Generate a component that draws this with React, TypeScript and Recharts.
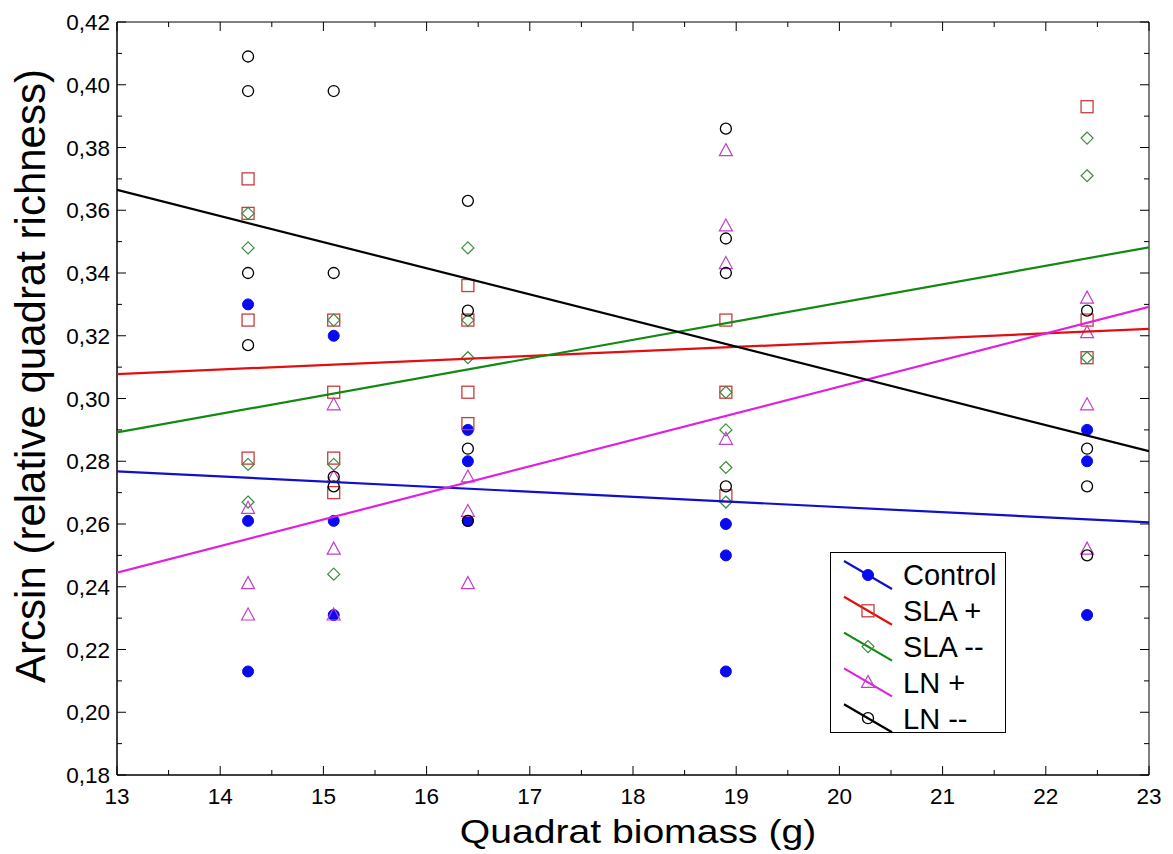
import React from 'react';
import { ScatterChart, Scatter, XAxis, YAxis, ReferenceArea } from 'recharts';

// ---- data ----
const biomassLevels = [14.27, 15.1, 16.4, 18.9, 22.4];

const controlValues = [
  [0.33, 0.261, 0.213],
  [0.32, 0.261, 0.231],
  [0.29, 0.28, 0.261],
  [0.26, 0.25, 0.213],
  [0.29, 0.28, 0.231],
];
const slaPlusValues = [
  [0.37, 0.359, 0.325, 0.281],
  [0.325, 0.302, 0.281, 0.27],
  [0.336, 0.325, 0.302, 0.292],
  [0.325, 0.302, 0.269],
  [0.393, 0.325, 0.313],
];
const slaMinusValues = [
  [0.359, 0.348, 0.279, 0.267],
  [0.325, 0.279, 0.244],
  [0.348, 0.325, 0.313],
  [0.302, 0.29, 0.278, 0.267],
  [0.383, 0.371, 0.313],
];
const lnPlusValues = [
  [0.265, 0.241, 0.231],
  [0.298, 0.275, 0.252, 0.231],
  [0.275, 0.264, 0.241],
  [0.379, 0.355, 0.343, 0.287],
  [0.332, 0.321, 0.298, 0.252],
];
const lnMinusValues = [
  [0.409, 0.398, 0.34, 0.317],
  [0.398, 0.34, 0.275, 0.272],
  [0.363, 0.328, 0.284, 0.261],
  [0.386, 0.351, 0.34, 0.272],
  [0.328, 0.284, 0.272, 0.25],
];

// fitted regression lines, values at the two ends of the x axis
const fitEnds = [13, 23];
const controlFit = [0.2768, 0.2605];
const slaPlusFit = [0.3078, 0.3222];
const slaMinusFit = [0.2892, 0.3482];
const lnPlusFit = [0.2445, 0.3292];
const lnMinusFit = [0.3665, 0.2832];

const seriesNames = ['Control', 'SLA +', 'SLA --', 'LN +', 'LN --'];

const xMajorTicks = [13, 14, 15, 16, 17, 18, 19, 20, 21, 22, 23];
const xMinorTicks = [13.5, 14.5, 15.5, 16.5, 17.5, 18.5, 19.5, 20.5, 21.5, 22.5];
const yMajorTicks = [0.18, 0.2, 0.22, 0.24, 0.26, 0.28, 0.3, 0.32, 0.34, 0.36, 0.38, 0.4, 0.42];
const yMinorTicks = [0.19, 0.21, 0.23, 0.25, 0.27, 0.29, 0.31, 0.33, 0.35, 0.37, 0.39, 0.41];

// ---- layout ----
const W = 1173;
const H = 854;
const PL = 117;
const PR = 1149;
const PT = 22;
const PB = 775;
const FONT = '"Liberation Sans", Arial, sans-serif';

const toPoints = (vals: number[][]) =>
  biomassLevels.flatMap((x, i) => vals[i].map((y) => ({ x, y })));
const toFit = (vals: number[]) => fitEnds.map((x, i) => ({ x, y: vals[i] }));

type Marker = 'dot' | 'square' | 'diamond' | 'triangle' | 'circle';

const drawMarker = (kind: Marker, cx: number, cy: number, color: string) => {
  switch (kind) {
    case 'dot':
      return <circle cx={cx} cy={cy} r={5.5} fill={color} stroke={color} strokeWidth={1} />;
    case 'square':
      return <rect x={cx - 6} y={cy - 6} width={12} height={12} fill="none" stroke={color} strokeWidth={1.3} />;
    case 'diamond':
      return (
        <polygon
          points={`${cx},${cy - 6} ${cx + 6},${cy} ${cx},${cy + 6} ${cx - 6},${cy}`}
          fill="none"
          stroke={color}
          strokeWidth={1.2}
        />
      );
    case 'triangle':
      return (
        <polygon
          points={`${cx},${cy - 7} ${cx + 6.5},${cy + 5} ${cx - 6.5},${cy + 5}`}
          fill="none"
          stroke={color}
          strokeWidth={1.2}
        />
      );
    default:
      return <circle cx={cx} cy={cy} r={5.5} fill="none" stroke={color} strokeWidth={1.3} />;
  }
};

const series = [
  { name: seriesNames[0], vals: controlValues, fit: controlFit, marker: 'dot' as Marker, markerColor: '#0a0af0', lineColor: '#1010c8' },
  { name: seriesNames[1], vals: slaPlusValues, fit: slaPlusFit, marker: 'square' as Marker, markerColor: '#c83c3c', lineColor: '#e01010' },
  { name: seriesNames[2], vals: slaMinusValues, fit: slaMinusFit, marker: 'diamond' as Marker, markerColor: '#3c8c3c', lineColor: '#108a10' },
  { name: seriesNames[3], vals: lnPlusValues, fit: lnPlusFit, marker: 'triangle' as Marker, markerColor: '#c040c8', lineColor: '#e020e0' },
  { name: seriesNames[4], vals: lnMinusValues, fit: lnMinusFit, marker: 'circle' as Marker, markerColor: '#000000', lineColor: '#000000' },
];

const isIn = (list: number[], v: number) => list.some((m) => Math.abs(m - v) < 1e-6);

const YTick = (props: any) => {
  const { y, payload } = props;
  const v = payload.value as number;
  const major = isIn(yMajorTicks, v);
  const len = major ? 9 : 5;
  return (
    <g>
      <line x1={PL} x2={PL + len} y1={y} y2={y} stroke="#000" strokeWidth={1} />
      <line x1={PR - len} x2={PR} y1={y} y2={y} stroke="#000" strokeWidth={1} />
      {major && (
        <text x={PL - 7} y={y} dy="0.36em" textAnchor="end" fontFamily={FONT} fontSize={22.5} fill="#000">
          {v.toFixed(2).replace('.', ',')}
        </text>
      )}
    </g>
  );
};

const XTick = (props: any) => {
  const { x, payload } = props;
  const v = payload.value as number;
  const major = isIn(xMajorTicks, v);
  const len = major ? 9 : 5;
  return (
    <g>
      <line x1={x} x2={x} y1={PB - len} y2={PB} stroke="#000" strokeWidth={1} />
      <line x1={x} x2={x} y1={PT} y2={PT + len} stroke="#000" strokeWidth={1} />
      {major && (
        <text x={x} y={PB + 21} dy="0.36em" textAnchor="middle" fontFamily={FONT} fontSize={22.5} fill="#000">
          {String(v)}
        </text>
      )}
    </g>
  );
};

const LegendBox = () => {
  const rowY = (i: number) => 23 + i * 35.8;
  return (
    <svg width={177} height={182} style={{ display: 'block' }}>
      <rect x={0.5} y={0.5} width={175} height={180} fill="#fff" stroke="#000" strokeWidth={1} />
      {series.map((s, i) => {
        const cy = rowY(i);
        const cx = 38;
        return (
          <g key={s.name}>
            <line x1={cx - 24} y1={cy - 14} x2={cx + 24} y2={cy + 14} stroke={s.lineColor} strokeWidth={2.2} />
            {drawMarker(s.marker, cx, cy, s.markerColor)}
            <text x={73} y={cy} dy="0.36em" fontFamily={FONT} fontSize={29} fill="#000">
              {s.name}
            </text>
          </g>
        );
      })}
    </svg>
  );
};

export default function App() {
  return (
    <div style={{ position: 'absolute', left: 0, top: 0, width: W, height: H, background: '#fff', overflow: 'hidden' }}>
      <ScatterChart width={W} height={H} margin={{ top: PT, right: W - PR, bottom: 0, left: 0 }}>
        <XAxis
          type="number"
          dataKey="x"
          domain={[13, 23]}
          ticks={[...xMajorTicks, ...xMinorTicks].sort((a, b) => a - b)}
          interval={0}
          height={H - PB}
          tick={<XTick />}
          tickLine={false}
          axisLine={{ stroke: '#000', strokeWidth: 1 }}
          allowDataOverflow
        />
        <YAxis
          type="number"
          dataKey="y"
          domain={[0.18, 0.42]}
          ticks={[...yMajorTicks, ...yMinorTicks].sort((a, b) => a - b)}
          interval={0}
          width={PL}
          tick={<YTick />}
          tickLine={false}
          axisLine={{ stroke: '#000', strokeWidth: 1 }}
          allowDataOverflow
        />
        <ReferenceArea x1={13} x2={23} y1={0.18} y2={0.42} fill="none" stroke="#000" strokeWidth={1} />
        {series.map((s) => (
          <Scatter
            key={s.name + '-pts'}
            name={s.name}
            data={toPoints(s.vals)}
            isAnimationActive={false}
            shape={(p: any) => drawMarker(s.marker, p.cx, p.cy, s.markerColor)}
          />
        ))}
        {series.map((s) => (
          <Scatter
            key={s.name + '-fit'}
            name={s.name + ' fit'}
            data={toFit(s.fit)}
            isAnimationActive={false}
            line={{ stroke: s.lineColor, strokeWidth: 2.2 }}
            shape={() => <g />}
            legendType="none"
          />
        ))}
      </ScatterChart>
      <div style={{ position: 'absolute', left: 830, top: 552 }}>
        <LegendBox />
      </div>
      <div
        style={{
          position: 'absolute',
          left: 638,
          top: 811,
          transform: 'translateX(-50%) scaleX(1.15)',
          fontFamily: FONT,
          fontSize: 34,
          color: '#000',
          lineHeight: '40px',
          whiteSpace: 'nowrap',
        }}
      >
        Quadrat biomass (g)
      </div>
      <div
        style={{
          position: 'absolute',
          left: 31,
          top: 376,
          transform: 'translate(-50%, -50%) rotate(-90deg)',
          whiteSpace: 'nowrap',
          fontFamily: FONT,
          fontSize: 42,
          color: '#000',
          lineHeight: '48px',
        }}
      >
        Arcsin (relative quadrat richness)
      </div>
    </div>
  );
}
